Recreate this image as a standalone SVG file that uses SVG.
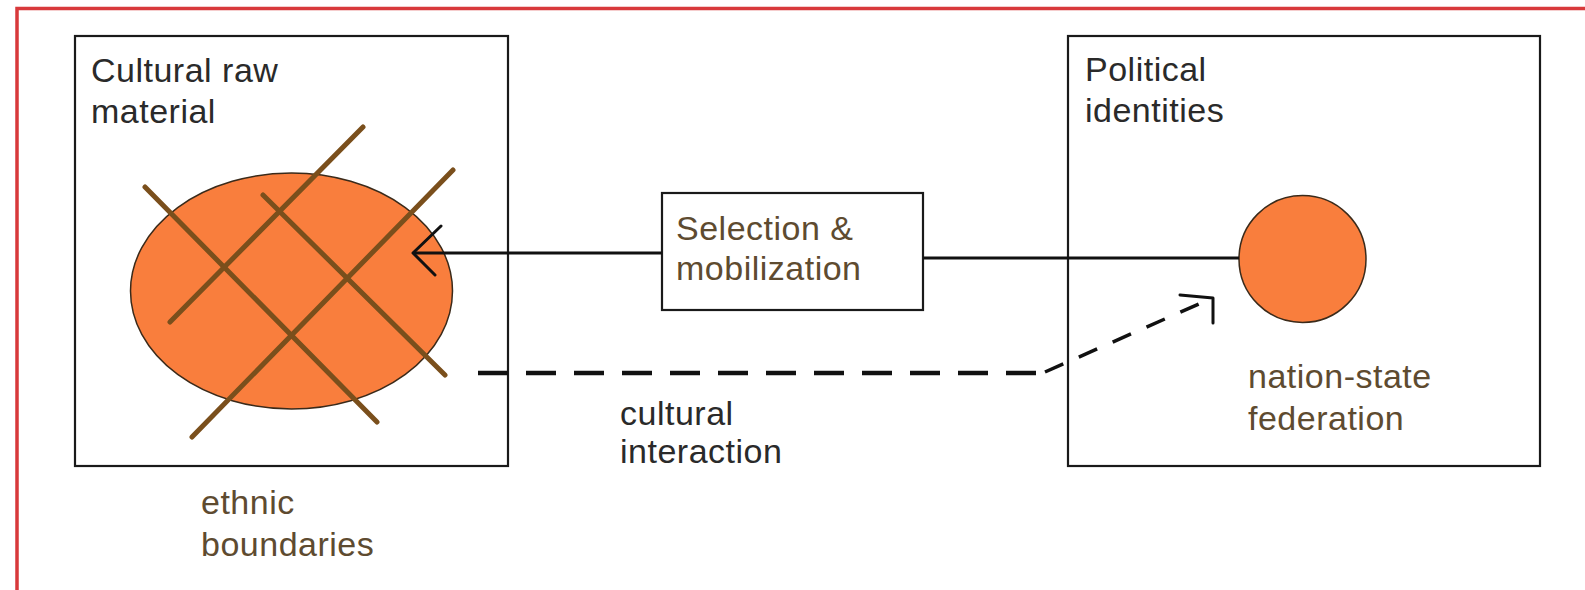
<svg xmlns="http://www.w3.org/2000/svg" width="1585" height="590" viewBox="0 0 1585 590">
  <style>
    .frame { fill: none; stroke: #d8393b; stroke-width: 3.5; }
    .box { fill: #ffffff; stroke: #1a1a1a; stroke-width: 2.2; }
    .blob { fill: #f97e3d; stroke: #3a2a1a; stroke-width: 1.5; }
    .hatch { stroke: #7a4f1c; stroke-width: 5; stroke-linecap: round; fill: none; }
    .t { font-family: "Liberation Sans", Arial, sans-serif; font-size: 34px; letter-spacing: 0.5px; }
    .dark { fill: #2a2a2a; }
    .brown { fill: #5e4b30; }
    .solid { fill: none; stroke: #111111; stroke-width: 3; }
    .dash { fill: none; stroke: #111111; stroke-width: 4.5; stroke-dasharray: 30 18; }
    .dash2 { fill: none; stroke: #111111; stroke-width: 3.5; stroke-dasharray: 20 17; }
    .head { fill: none; stroke: #111111; stroke-width: 3; stroke-linecap: round; stroke-linejoin: round; }
  </style>

  <rect width="1585" height="590" fill="#ffffff"/>
  <path class="frame" d="M17 590 V8.5 H1585"/>

  <g id="node-cultural-raw-material">
    <rect class="box" x="75" y="36" width="433" height="430"/>
    <text class="t dark" x="91" y="82">Cultural raw</text>
    <text class="t dark" x="91" y="123">material</text>
  </g>

  <g id="node-ethnic-group">
    <ellipse class="blob" cx="291.5" cy="291" rx="161" ry="118"/>
    <line class="hatch" x1="145" y1="187" x2="377" y2="422"/>
    <line class="hatch" x1="263" y1="195" x2="445" y2="375"/>
    <line class="hatch" x1="170" y1="322" x2="363" y2="127"/>
    <line class="hatch" x1="192" y1="437" x2="453" y2="170"/>
  </g>

  <g id="node-ethnic-boundaries-label">
    <text class="t brown" x="201" y="514">ethnic</text>
    <text class="t brown" x="201" y="556">boundaries</text>
  </g>

  <g id="node-selection">
    <rect class="box" x="662" y="193" width="261" height="117"/>
    <text class="t brown" x="676" y="240">Selection &amp;</text>
    <text class="t brown" x="676" y="280">mobilization</text>
  </g>

  <g id="node-political-identities">
    <rect class="box" x="1068" y="36" width="472" height="430"/>
    <text class="t dark" x="1085" y="81">Political</text>
    <text class="t dark" x="1085" y="122">identities</text>
  </g>

  <g id="node-nation-state">
    <circle class="blob" cx="1302.5" cy="259" r="63.5"/>
    <text class="t brown" x="1248" y="388">nation-state</text>
    <text class="t brown" x="1248" y="430">federation</text>
  </g>

  <g id="connectors">
    <line class="solid" x1="662" y1="253" x2="413" y2="253"/>
    <polyline class="head" points="441,226 413,253 435,275"/>
    <line class="solid" x1="923" y1="258" x2="1239" y2="258"/>
    <path class="dash" d="M478 373 H1045"/>
    <path class="dash2" d="M1045 372 L1210 299"/>
    <polyline class="head" points="1180,295 1213,298 1213,323"/>
    <g id="cultural-interaction-label">
      <text class="t dark" x="620" y="425">cultural</text>
      <text class="t dark" x="620" y="463">interaction</text>
    </g>
  </g>
</svg>
